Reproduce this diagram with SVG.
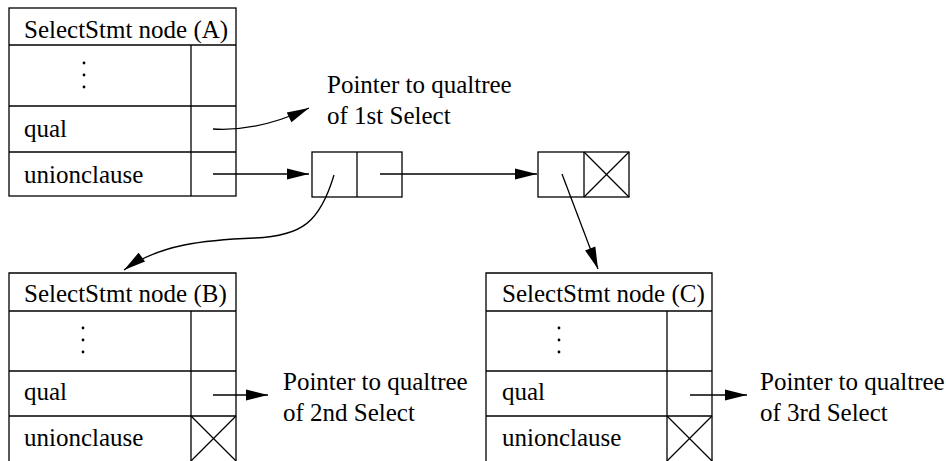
<svg xmlns="http://www.w3.org/2000/svg" width="946" height="461" viewBox="0 0 946 461">
  <style>
    .box { fill: none; stroke: #000; stroke-width: 1.3; }
    .ln { fill: none; stroke: #000; stroke-width: 1.3; }
    text { font-family: "Liberation Serif", "Times New Roman", Times, "DejaVu Serif", serif; font-size: 25px; fill: #000; }
    .dot { fill: #000; }
  </style>
  <defs>
    <marker id="arrow" markerUnits="userSpaceOnUse" markerWidth="22" markerHeight="12" refX="22" refY="5.5" orient="auto" overflow="visible">
      <path d="M0,0 L22,5.5 L0,11 z" fill="#000"/>
    </marker>
  </defs>

  <rect width="946" height="461" fill="#fff"/>

  <!-- SelectStmt node A -->
  <g id="nodeA">
    <rect class="box" x="9" y="8" width="227" height="188"/>
    <line class="ln" x1="9" y1="45" x2="236" y2="45"/>
    <line class="ln" x1="9" y1="106" x2="236" y2="106"/>
    <line class="ln" x1="9" y1="152" x2="236" y2="152"/>
    <line class="ln" x1="191" y1="45" x2="191" y2="196"/>
    <text x="24" y="38">SelectStmt node (A)</text>
    <circle class="dot" cx="84" cy="63" r="1.4"/>
    <circle class="dot" cx="84" cy="75" r="1.4"/>
    <circle class="dot" cx="84" cy="87" r="1.4"/>
    <text x="24" y="137">qual</text>
    <text x="24" y="183">unionclause</text>
  </g>

  <!-- List cell 1 -->
  <g id="cell1">
    <rect class="box" x="312" y="152" width="90" height="45"/>
    <line class="ln" x1="357" y1="152" x2="357" y2="197"/>
  </g>

  <!-- List cell 2 (end of list) -->
  <g id="cell2">
    <rect class="box" x="538" y="152" width="91" height="45"/>
    <line class="ln" x1="584" y1="152" x2="584" y2="197"/>
    <line class="ln" x1="584" y1="152" x2="629" y2="197"/>
    <line class="ln" x1="629" y1="152" x2="584" y2="197"/>
  </g>

  <!-- SelectStmt node B -->
  <g id="nodeB">
    <path class="ln" d="M9,463 V273 H236 V463"/>
    <line class="ln" x1="9" y1="311" x2="236" y2="311"/>
    <line class="ln" x1="9" y1="371" x2="236" y2="371"/>
    <line class="ln" x1="9" y1="416" x2="236" y2="416"/>
    <line class="ln" x1="191" y1="311" x2="191" y2="463"/>
    <line class="ln" x1="191" y1="416" x2="236" y2="461"/>
    <line class="ln" x1="236" y1="416" x2="191" y2="461"/>
    <text x="24" y="302">SelectStmt node (B)</text>
    <circle class="dot" cx="83" cy="328" r="1.4"/>
    <circle class="dot" cx="83" cy="340" r="1.4"/>
    <circle class="dot" cx="83" cy="352" r="1.4"/>
    <text x="24" y="400">qual</text>
    <text x="24" y="446">unionclause</text>
  </g>

  <!-- SelectStmt node C -->
  <g id="nodeC">
    <path class="ln" d="M486,463 V273 H712 V463"/>
    <line class="ln" x1="486" y1="311" x2="712" y2="311"/>
    <line class="ln" x1="486" y1="371" x2="712" y2="371"/>
    <line class="ln" x1="486" y1="416" x2="712" y2="416"/>
    <line class="ln" x1="667" y1="311" x2="667" y2="463"/>
    <line class="ln" x1="667" y1="416" x2="712" y2="461"/>
    <line class="ln" x1="712" y1="416" x2="667" y2="461"/>
    <text x="502" y="302">SelectStmt node (C)</text>
    <circle class="dot" cx="559" cy="328" r="1.4"/>
    <circle class="dot" cx="559" cy="340" r="1.4"/>
    <circle class="dot" cx="559" cy="352" r="1.4"/>
    <text x="502" y="400">qual</text>
    <text x="502" y="446">unionclause</text>
  </g>

  <!-- Pointer labels -->
  <g id="label1">
    <text x="327" y="93">Pointer to qualtree</text>
    <text x="327" y="124">of 1st Select</text>
  </g>
  <g id="label2">
    <text x="283" y="390">Pointer to qualtree</text>
    <text x="283" y="421">of 2nd Select</text>
  </g>
  <g id="label3">
    <text x="760" y="390">Pointer to qualtree</text>
    <text x="760" y="421">of 3rd Select</text>
  </g>

  <!-- Connectors -->
  <g id="connectors">
    <path class="ln" d="M213,129 C245,131 275,124 309,108" marker-end="url(#arrow)"/>
    <line class="ln" x1="213" y1="174" x2="309" y2="174" marker-end="url(#arrow)"/>
    <line class="ln" x1="380" y1="174" x2="537" y2="174" marker-end="url(#arrow)"/>
    <line class="ln" x1="562" y1="174" x2="598" y2="269" marker-end="url(#arrow)"/>
    <path class="ln" d="M334,175 C320,222 302,236 255,238 C205,240 160,244 124,270" marker-end="url(#arrow)"/>
    <line class="ln" x1="213" y1="395" x2="268" y2="395" marker-end="url(#arrow)"/>
    <line class="ln" x1="690" y1="395" x2="747" y2="395" marker-end="url(#arrow)"/>
  </g>
</svg>
